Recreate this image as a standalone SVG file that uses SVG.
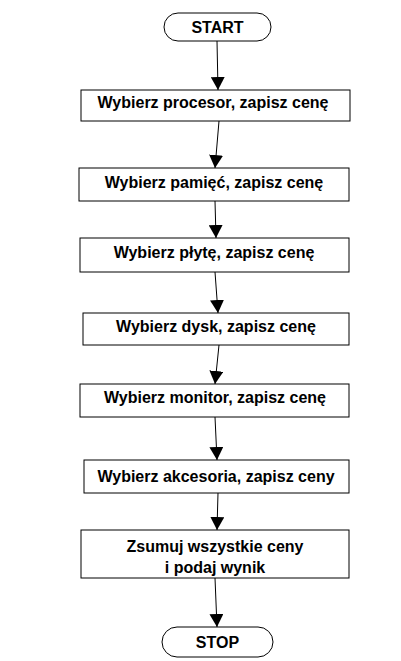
<svg xmlns="http://www.w3.org/2000/svg" width="401" height="661" viewBox="0 0 401 661">
<style>
.box{fill:#fff;stroke:#000;stroke-width:1}
.t{font-family:"Liberation Sans",Arial,sans-serif;font-weight:bold;font-size:16px;fill:#000;text-anchor:middle}
.c{stroke:#000;stroke-width:1;fill:none;marker-end:url(#ah)}
</style>
<defs>
<marker id="ah" markerUnits="userSpaceOnUse" markerWidth="14" markerHeight="14" viewBox="0 0 14 14" refX="13" refY="7" orient="auto">
<path d="M0,0 L13,7 L0,14 Z" fill="#000"/>
</marker>
</defs>
<rect width="401" height="661" fill="#fff"/>
<g id="connectors">
<line class="c" x1="217" y1="41" x2="218" y2="90"/>
<line class="c" x1="219" y1="121" x2="215" y2="168"/>
<line class="c" x1="215" y1="201" x2="216" y2="238"/>
<line class="c" x1="215" y1="272" x2="218" y2="313"/>
<line class="c" x1="219" y1="345" x2="215" y2="384"/>
<line class="c" x1="215" y1="417" x2="217" y2="460"/>
<line class="c" x1="218" y1="493" x2="217" y2="530"/>
<line class="c" x1="215" y1="578" x2="217" y2="627"/>
</g>
<g id="start">
<rect class="box" x="164" y="13" width="107" height="28" rx="14"/>
<text class="t" x="217.5" y="33">START</text>
</g>
<g id="n1">
<rect class="box" x="81" y="90" width="269" height="31"/>
<text class="t" x="213" y="108">Wybierz procesor, zapisz cenę</text>
</g>
<g id="n2">
<rect class="box" x="79" y="168" width="270" height="33"/>
<text class="t" x="214" y="188">Wybierz pamięć, zapisz cenę</text>
</g>
<g id="n3">
<rect class="box" x="80" y="238" width="269" height="34"/>
<text class="t" x="214" y="258">Wybierz płytę, zapisz cenę</text>
</g>
<g id="n4">
<rect class="box" x="83" y="313" width="266" height="32"/>
<text class="t" x="216" y="332">Wybierz dysk, zapisz cenę</text>
</g>
<g id="n5">
<rect class="box" x="80" y="384" width="269" height="33"/>
<text class="t" x="215" y="403">Wybierz monitor, zapisz cenę</text>
</g>
<g id="n6">
<rect class="box" x="84" y="460" width="265" height="33"/>
<text class="t" x="216" y="482">Wybierz akcesoria, zapisz ceny</text>
</g>
<g id="n7">
<rect class="box" x="81" y="530" width="268" height="48"/>
<text class="t" x="215" y="552">Zsumuj wszystkie ceny</text>
<text class="t" x="215" y="573">i podaj wynik</text>
</g>
<g id="stop">
<rect class="box" x="162" y="627" width="111" height="30" rx="15"/>
<text class="t" x="217.5" y="648">STOP</text>
</g>
</svg>
